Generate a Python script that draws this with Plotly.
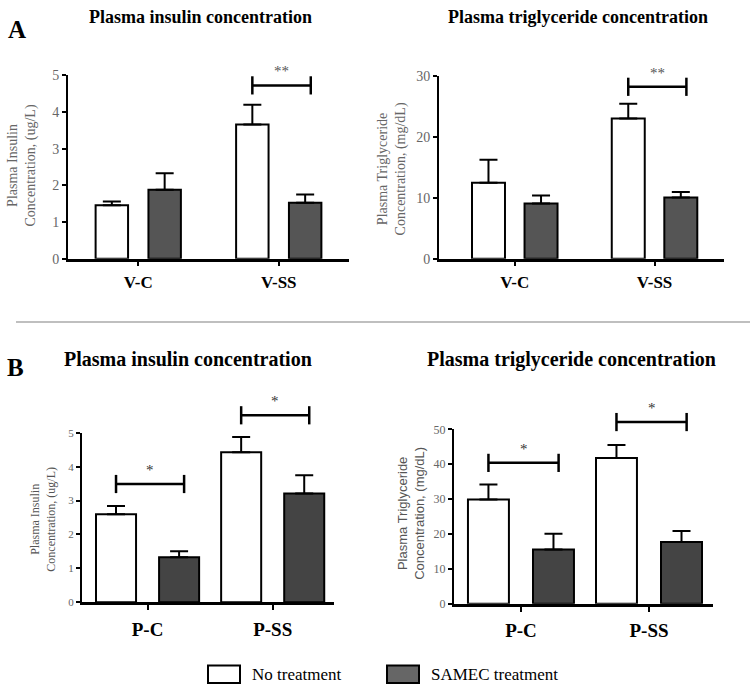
import plotly.graph_objects as go

W, H = 753, 694

# ---------------- data ----------------
series_names = ["No treatment", "SAMEC treatment"]

a_cats = ["V-C", "V-SS"]
b_cats = ["P-C", "P-SS"]

# Panel A - plasma insulin (ug/L)
a_ins_none = [1.46, 3.66]
a_ins_none_err = [0.10, 0.54]
a_ins_samec = [1.88, 1.53]
a_ins_samec_err = [0.45, 0.22]
a_ins_sig_y = [None, 4.73]
a_ins_sig_txt = ["", "**"]

# Panel A - plasma triglyceride (mg/dL)
a_tg_none = [12.5, 23.1]
a_tg_none_err = [3.8, 2.4]
a_tg_samec = [9.1, 10.1]
a_tg_samec_err = [1.3, 0.9]
a_tg_sig_y = [None, 28.3]
a_tg_sig_txt = ["", "**"]

# Panel B - plasma insulin (ug/L)
b_ins_none = [2.60, 4.43]
b_ins_none_err = [0.24, 0.45]
b_ins_samec = [1.33, 3.21]
b_ins_samec_err = [0.17, 0.54]
b_ins_sig_y = [3.49, 5.52]
b_ins_sig_txt = ["*", "*"]

# Panel B - plasma triglyceride (mg/dL)
b_tg_none = [29.9, 41.8]
b_tg_none_err = [4.3, 3.7]
b_tg_samec = [15.6, 17.7]
b_tg_samec_err = [4.5, 3.2]
b_tg_sig_y = [40.4, 52.1]
b_tg_sig_txt = ["*", "*"]

# ---------------- helpers ----------------
def px_x(p):
    return p / W

def px_y(p):
    return 1 - p / H

SERIF = "Liberation Serif, Times New Roman, DejaVu Serif, serif"
SANS = "Liberation Sans, Arial, sans-serif"

panels = [
    dict(cats=a_cats, none=a_ins_none, none_err=a_ins_none_err, samec=a_ins_samec,
         samec_err=a_ins_samec_err, sig_y=a_ins_sig_y, sig_txt=a_ins_sig_txt,
         xdom=(68, 349), ydom=(257.3, 70), ext_top=30, yrange=[0, 5], dtick=1,
         xrange=[-0.5, 1.5], d=0.188, w=0.231, gray="#555555",
         tickfont=dict(family=SERIF, size=14, color="#666666"),
         xfont=dict(family=SERIF, size=17, color="black", weight="bold"), standoff=1,
         title="Plasma insulin concentration", title_xy=(200, 10), title_size=18,
         ytitle="Plasma Insulin<br>Concentration, (ug/L)", ytitle_xy=(22, 162),
         ytitle_font=dict(family=SERIF, size=14, color="#666666"),
         star_font=dict(family=SERIF, size=15, color="#555555")),
    dict(cats=a_cats, none=a_tg_none, none_err=a_tg_none_err, samec=a_tg_samec,
         samec_err=a_tg_samec_err, sig_y=a_tg_sig_y, sig_txt=a_tg_sig_txt,
         xdom=(439, 724), ydom=(257.3, 71), ext_top=30, yrange=[0, 30], dtick=10,
         xrange=[-0.542, 1.497], d=0.188, w=0.236, gray="#555555",
         tickfont=dict(family=SERIF, size=14, color="#666666"),
         xfont=dict(family=SERIF, size=17, color="black", weight="bold"), standoff=1,
         title="Plasma triglyceride concentration", title_xy=(578, 10), title_size=18,
         ytitle="Plasma Triglyceride<br>Concentration, (mg/dL)", ytitle_xy=(392, 166),
         ytitle_font=dict(family=SERIF, size=14, color="#666666"),
         star_font=dict(family=SERIF, size=15, color="#555555")),
    dict(cats=b_cats, none=b_ins_none, none_err=b_ins_none_err, samec=b_ins_samec,
         samec_err=b_ins_samec_err, sig_y=b_ins_sig_y, sig_txt=b_ins_sig_txt,
         xdom=(82, 334), ydom=(608.3, 435.3), ext_top=380, yrange=[0, 5], dtick=1,
         xrange=[-0.524, 1.49], d=0.252, w=0.32, gray="#444444",
         tickfont=dict(family=SERIF, size=11, color="#666666"),
         xfont=dict(family=SERIF, size=19, color="black", weight="bold"), standoff=3,
         title="Plasma insulin concentration", title_xy=(188, 360), title_size=20,
         ytitle="Plasma Insulin<br>Concentration, (ug/L)", ytitle_xy=(43, 524),
         ytitle_font=dict(family=SERIF, size=12, color="#555555"),
         star_font=dict(family=SERIF, size=15, color="#333333")),
    dict(cats=b_cats, none=b_tg_none, none_err=b_tg_none_err, samec=b_tg_samec,
         samec_err=b_tg_samec_err, sig_y=b_tg_sig_y, sig_txt=b_tg_sig_txt,
         xdom=(454, 713), ydom=(610, 431.7), ext_top=380, yrange=[0, 50], dtick=10,
         xrange=[-0.523, 1.5], d=0.254, w=0.32, gray="#444444",
         tickfont=dict(family=SERIF, size=12, color="#666666"),
         xfont=dict(family=SERIF, size=19, color="black", weight="bold"), standoff=3,
         title="Plasma triglyceride concentration", title_xy=(571, 360), title_size=20,
         ytitle="Plasma Triglyceride<br>Concentration, (mg/dL)", ytitle_xy=(411, 517),
         ytitle_font=dict(family=SANS, size=13, color="#555555"),
         star_font=dict(family=SERIF, size=15, color="#333333")),
]

fig = go.Figure()
annotations = []
shapes = []
NP = len(panels)

for k, p in enumerate(panels):
    n = k + 1
    xa = "x" if n == 1 else f"x{n}"
    ya = "y" if n == 1 else f"y{n}"
    yo = f"y{n + NP}"          # invisible axis (same scale, taller domain) for brackets
    idx = list(range(len(p["cats"])))
    d, w = p["d"], p["w"]

    fig.add_trace(go.Bar(
        x=idx, y=p["none"], name=series_names[0], xaxis=xa, yaxis=ya,
        width=w, offset=-d - w / 2, showlegend=False,
        marker=dict(color="white", line=dict(color="black", width=2)),
        error_y=dict(type="data", symmetric=False, array=p["none_err"],
                     arrayminus=[0] * len(idx), color="black", thickness=2, width=9),
    ))
    fig.add_trace(go.Bar(
        x=idx, y=p["samec"], name=series_names[1], xaxis=xa, yaxis=ya,
        width=w, offset=d - w / 2, showlegend=False,
        marker=dict(color=p["gray"], line=dict(color="black", width=2)),
        error_y=dict(type="data", symmetric=False, array=p["samec_err"],
                     arrayminus=[0] * len(idx), color="black", thickness=2, width=9),
    ))

    # significance brackets
    for i, (sy, st) in enumerate(zip(p["sig_y"], p["sig_txt"])):
        if sy is None:
            continue
        x0, x1 = i - d, i + d + 0.04
        fig.add_trace(go.Scatter(
            x=[x0, x1], y=[sy, sy], xaxis=xa, yaxis=yo, mode="lines+markers",
            line=dict(color="black", width=2.5), cliponaxis=False,
            marker=dict(symbol="line-ns", size=13, line=dict(color="black", width=2.5)),
            showlegend=False, hoverinfo="skip",
        ))
        annotations.append(dict(
            x=(x0 + x1) / 2, y=sy, xref=xa, yref=yo, text=st, showarrow=False,
            yanchor="bottom", yshift=4, font=p["star_font"],
        ))

    xkey = "xaxis" if n == 1 else f"xaxis{n}"
    ykey = "yaxis" if n == 1 else f"yaxis{n}"
    fig.layout[xkey] = dict(
        domain=[px_x(p["xdom"][0]), px_x(p["xdom"][1])], anchor=ya,
        range=p["xrange"], tickvals=idx, ticktext=p["cats"],
        showline=True, linewidth=2.5, linecolor="black", ticks="outside",
        ticklen=5, tickwidth=1.5, tickcolor="black", showgrid=False, zeroline=False,
        tickfont=p["xfont"], ticklabelstandoff=p["standoff"], fixedrange=True,
    )
    fig.layout[ykey] = dict(
        domain=[px_y(p["ydom"][0]), px_y(p["ydom"][1])], anchor=xa,
        range=p["yrange"], dtick=p["dtick"], tick0=0,
        showline=True, linewidth=2, linecolor="black", ticks="outside",
        ticklen=4, tickwidth=1.5, tickcolor="black", showgrid=False, zeroline=False,
        tickfont=p["tickfont"], fixedrange=True,
    )
    # invisible axis with the same data-per-pixel scale, extended upward
    zero_px, top_px = p["ydom"]
    scale = (zero_px - p["ext_top"]) / (zero_px - top_px)
    fig.layout[f"yaxis{n + NP}"] = dict(
        domain=[px_y(zero_px), px_y(p["ext_top"])], anchor=xa,
        range=[0, p["yrange"][1] * scale], visible=False, fixedrange=True,
        showgrid=False, zeroline=False,
    )

    annotations.append(dict(
        x=px_x(p["title_xy"][0]), y=px_y(p["title_xy"][1]), xref="paper", yref="paper",
        text=p["title"], showarrow=False, xanchor="center", yanchor="middle",
        font=dict(family=SERIF, size=p["title_size"], color="black", weight="bold"),
    ))
    annotations.append(dict(
        x=px_x(p["ytitle_xy"][0]), y=px_y(p["ytitle_xy"][1]), xref="paper", yref="paper",
        text=p["ytitle"], showarrow=False, textangle=-90, xanchor="center", yanchor="middle",
        font=p["ytitle_font"],
    ))

# panel letters
for letter, (lx, ly) in [("A", (17, 23)), ("B", (16, 368))]:
    annotations.append(dict(
        x=px_x(lx), y=px_y(ly), xref="paper", yref="paper", text=letter,
        showarrow=False, xanchor="center", yanchor="middle",
        font=dict(family=SERIF, size=25, color="black", weight="bold"),
    ))

# separator line
shapes.append(dict(type="line", xref="paper", yref="paper",
                   x0=px_x(16), x1=px_x(750), y0=px_y(322), y1=px_y(322),
                   line=dict(color="#aaaaaa", width=1.5)))

# legend (drawn as boxes + labels)
legend_fill = ["white", "#666666"]
legend_box_x = [208, 387]
for name, fill, bx in zip(series_names, legend_fill, legend_box_x):
    shapes.append(dict(type="rect", xref="paper", yref="paper",
                       x0=px_x(bx), x1=px_x(bx + 32), y0=px_y(691), y1=px_y(673),
                       fillcolor=fill, line=dict(color="black", width=2)))
    annotations.append(dict(
        x=px_x(bx + 42), y=px_y(682), xref="paper", yref="paper", text=name,
        showarrow=False, xanchor="left", yanchor="middle",
        font=dict(family=SERIF, size=17, color="black"),
    ))

fig.update_layout(
    width=W, height=H, margin=dict(l=0, r=0, t=0, b=0),
    paper_bgcolor="white", plot_bgcolor="rgba(0,0,0,0)",
    annotations=annotations, shapes=shapes, showlegend=False,
    barmode="overlay",
)

fig.write_html(
    "out.html",
    config={"displayModeBar": False},
    post_script="document.body.style.margin='0';document.body.style.overflow='hidden';",
)
